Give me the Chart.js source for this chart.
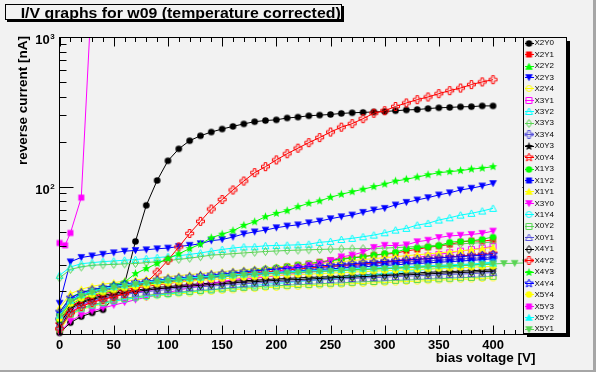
<!DOCTYPE html>
<html>
<head>
<meta charset="utf-8">
<script src="https://cdn.jsdelivr.net/npm/chart.js@4/dist/chart.umd.min.js"></script>
<style>
  html, body { margin: 0; padding: 0; background: #f2f2f2; }
  canvas { display: block; }
</style>
</head>
<body>
<canvas id="iv" width="596" height="372"></canvas>
<script>
// bias voltage points [V]
const VOLTS = [0, 10, 20, 30, 40, 50, 60, 70, 80, 90, 100, 110, 120, 130, 140, 150, 160, 170, 180, 190,
               200, 210, 220, 230, 240, 250, 260, 270, 280, 290, 300, 310, 320, 330, 340, 350, 360, 370, 380, 390, 400];
const VOLTS_X5Y1 = [...VOLTS, 410, 420, 430];
const VOLTS_X5Y3 = [0, 5, 10, 20, 30];

// reverse current [nA]
const X2Y0 = [10.5, 12.3, 13.5, 14.3, 15, 18, 22.5, 43, 75, 110, 149, 179, 203, 219, 232, 243, 253, 263, 272, 277,
              280, 288, 292, 298, 301, 304, 309, 312, 314, 316, 318, 322, 326, 328, 333, 337, 339, 342, 343, 347, 347];
const X2Y1 = [12.5, 15.8, 17.3, 18.3, 19.1, 19.8, 20.4, 21, 21.5, 22, 22.5, 23, 23.5, 24, 24.6, 25.2, 25.8, 26.4, 27, 27.6,
              28.3, 29.2, 29.8, 30.4, 31.3, 32.1, 33, 33.5, 34, 34.8, 35.3, 35.8, 37.2, 38, 39.3, 40, 41, 42.6, 43.4, 43.2, 44];
const X2Y2 = [14.5, 18.2, 19.6, 20.5, 21.2, 21.8, 22.3, 22.7, 23.1, 23.5, 23.8, 24.1, 24.4, 24.7, 25, 25.2, 25.5, 25.7, 26, 26.2,
              26.4, 26.6, 26.8, 27, 27.2, 27.4, 27.6, 27.8, 28, 28.2, 28.4, 28.6, 28.8, 29, 29.2, 29.4, 29.6, 29.8, 30, 30.2, 30.4];
const X2Y3 = [16.6, 31.4, 33.6, 34.4, 35.3, 36.1, 37, 37.4, 37.8, 38.4, 38.8, 39.8, 40.5, 41.5, 43.5, 44.3, 46, 48.3, 49.8, 51.2,
              53.1, 54.5, 55.5, 57.3, 58.8, 61, 62.9, 64.6, 67.3, 69.8, 71.6, 75.4, 78.5, 81.4, 84.4, 88, 91, 95, 97.6, 101, 105];
const X2Y4 = [10.9, 13.8, 15.0, 15.8, 16.4, 17.0, 17.5, 17.9, 18.2, 18.6, 18.9, 19.2, 19.4, 19.7, 19.9, 20.2, 20.4, 20.7, 20.8, 21.1,
              21.2, 21.4, 21.5, 21.7, 21.9, 22.0, 22.2, 22.4, 22.5, 22.7, 22.8, 23.0, 23.2, 23.3, 23.5, 23.7, 23.8, 24.0, 24.1, 24.3, 24.5];
const X3Y1 = [11.5, 14.5, 16, 17, 17.8, 18.5, 19.1, 19.6, 20.1, 20.6, 21, 21.5, 21.9, 22.3, 22.7, 23.1, 23.5, 24, 24.4, 24.8,
              25.3, 25.8, 26.3, 26.8, 27.4, 28, 28.6, 29.2, 29.8, 30.5, 31.2, 32, 32.8, 33.6, 34.4, 35.2, 36.1, 37, 37.9, 38.8, 39.8];
const X3Y2 = [25.5, 29, 30.5, 31, 31.5, 31.8, 32.2, 32.5, 33, 33.5, 34, 34.5, 35.2, 36, 37, 38, 38.8, 39.5, 39.6, 40.2,
              40.4, 40.6, 40.8, 41.2, 42.4, 43, 44.3, 45.1, 46.2, 47.4, 49.1, 51.2, 52.6, 55.3, 56.8, 59.8, 61.9, 64.5, 66.3, 68.7, 71.6];
const X3Y3 = [24.5, 28, 29, 29.8, 30, 30.2, 30.4, 30.6, 31, 31.5, 32, 32.6, 33.2, 34, 34.8, 35.2, 35.6, 36, 36.4, 36.8,
              37.1, 37.4, 37.6, 37.8, 38, 38.2, 38.3, 38.4, 38.5, 38.6, 38.8, 39.1, 39.4, 39.8, 40.2, 40.6, 41, 41.4, 41.8, 42.2, 42.6];
const X3Y4 = [13, 16.8, 18.4, 19.4, 20.1, 20.8, 21.4, 21.9, 22.4, 22.9, 23.3, 23.7, 24.1, 24.5, 24.9, 25.3, 25.7, 26.1, 26.5, 26.9,
              27.3, 27.7, 28.0, 28.4, 28.7, 29.1, 29.4, 29.7, 30.1, 30.4, 30.7, 31.0, 31.3, 31.6, 31.9, 32.2, 32.5, 32.8, 33.1, 33.4, 33.7];
const X0Y3 = [10.8, 15.6, 17.0, 17.9, 18.7, 19.3, 19.9, 20.3, 20.7, 21.2, 21.4, 21.8, 22.1, 22.4, 22.6, 22.9, 23.2, 23.5, 23.6, 23.9,
              24.1, 24.3, 24.5, 24.7, 24.8, 25.0, 25.2, 25.4, 25.6, 25.8, 25.9, 26.1, 26.3, 26.5, 26.7, 26.9, 27.0, 27.2, 27.4, 27.6, 27.8];
const X0Y4 = [12, 15.5, 17.5, 18.6, 19.5, 20.3, 21, 21.6, 22.1, 22.6, 23.1, 23.6, 24, 24.4, 24.9, 25.3, 25.7, 26.1, 26.5, 26.9,
              27.3, 27.7, 28.1, 28.5, 28.9, 29.3, 29.7, 30.1, 30.5, 30.9, 31.3, 31.7, 32.1, 32.6, 33, 33.4, 33.9, 34.3, 34.8, 35.2, 35.7];
const X1Y3 = [12.8, 16.2, 17.8, 18.8, 19.6, 20.3, 21, 21.6, 22.2, 22.7, 23.2, 23.7, 24.2, 24.7, 25.2, 25.8, 26.3, 26.9, 27.5, 28.1,
              28.7, 29.3, 29.9, 30.5, 31.2, 31.9, 32.6, 33.3, 34, 34.8, 35.6, 36.4, 38.3, 39, 39.5, 40.3, 42.5, 43, 43.4, 44.5, 46];
const X1Y2 = [14, 17.5, 19, 19.9, 20.6, 21.2, 21.7, 22.2, 22.6, 23, 23.4, 23.8, 24.1, 24.5, 24.8, 25.2, 25.5, 25.8, 26.1, 26.4,
              26.7, 27, 27.3, 27.6, 27.9, 28.2, 28.5, 28.8, 29.1, 29.4, 29.7, 30, 30.3, 30.6, 30.9, 31.2, 31.5, 31.8, 32.1, 32.5, 32.9];
const X1Y1 = [15.5, 19.2, 20.6, 21.5, 22.2, 22.8, 23.3, 23.8, 24.2, 24.6, 25, 25.4, 25.8, 26.2, 26.6, 27, 27.4, 27.8, 28.2, 28.6,
              29, 29.4, 29.8, 30.2, 30.6, 31, 31.5, 32, 32.5, 33, 33.5, 34, 34.5, 35, 35.5, 36, 36.6, 37.2, 37.8, 38.5, 39.2];
const X3Y0 = [10.6, 12.6, 13.8, 14.7, 15.4, 16.1, 16.8, 17.5, 18.2, 18.9, 19.6, 20.3, 21, 21.7, 22.4, 23.1, 23.8, 24.5, 25.2, 26,
              26.8, 27.9, 28.8, 29.8, 30.6, 32, 33.9, 34.8, 36.5, 39.2, 40.5, 40.3, 40.8, 42.8, 43.8, 45.7, 46.8, 47.3, 47.9, 48.7, 50.4];
const X1Y4 = [11.5, 14, 15.2, 16, 16.6, 17.1, 17.6, 18, 18.4, 18.8, 19.1, 19.5, 19.8, 20.1, 20.4, 20.8, 21.1, 21.5, 21.8, 22.2,
              22.5, 22.8, 23.2, 23.5, 23.9, 24.2, 24.6, 25, 25.4, 25.8, 26.2, 26.6, 27.1, 27.5, 28, 28.5, 29, 29.5, 30.1, 30.7, 31.3];
const X0Y2 = [11.2, 14.1, 15.4, 16.2, 16.8, 17.4, 17.9, 18.3, 18.7, 19.1, 19.3, 19.7, 19.9, 20.2, 20.4, 20.7, 20.9, 21.2, 21.3, 21.6,
              21.7, 21.9, 22.1, 22.2, 22.4, 22.6, 22.7, 22.9, 23.1, 23.2, 23.4, 23.6, 23.7, 23.9, 24.1, 24.2, 24.4, 24.6, 24.7, 24.9, 25.1];
const X0Y1 = [11.9, 15.0, 16.3, 17.2, 17.9, 18.5, 19.0, 19.4, 19.8, 20.2, 20.5, 20.9, 21.1, 21.4, 21.6, 21.9, 22.2, 22.4, 22.6, 22.9,
              23.1, 23.2, 23.4, 23.6, 23.8, 23.9, 24.1, 24.3, 24.5, 24.6, 24.8, 25.0, 25.2, 25.3, 25.5, 25.7, 25.9, 26.0, 26.2, 26.4, 26.6];
const X4Y1 = [12.2, 15.3, 16.7, 17.6, 18.3, 18.9, 19.4, 19.9, 20.3, 20.7, 21.0, 21.3, 21.6, 21.9, 22.1, 22.4, 22.7, 23.0, 23.1, 23.4,
              23.6, 23.8, 23.9, 24.1, 24.3, 24.5, 24.7, 24.8, 25.0, 25.2, 25.4, 25.6, 25.7, 25.9, 26.1, 26.3, 26.5, 26.6, 26.8, 27.0, 27.2];
const X4Y2 = [11.2, 14.3, 15.8, 16.8, 17.6, 18.3, 19.2, 20.5, 22.8, 26.8, 32.2, 39.5, 48.6, 58.6, 70.8, 82, 95, 109, 124, 136,
              151, 166, 181, 197, 213, 232, 250, 264, 285, 310, 322, 344, 363, 382, 398, 419, 439, 457, 482, 502, 520];
const X4Y3 = [13, 17, 18.8, 19.8, 21, 22, 23, 26.2, 28.3, 30.6, 33, 35.5, 38.5, 41.2, 45.5, 48.1, 50.7, 55.1, 58.2, 62.9,
              66.3, 69, 73.4, 77.4, 80.2, 84.9, 88.9, 92.5, 96.1, 100, 104, 109, 112, 116, 120, 124, 126, 128, 131, 133, 136];
const X4Y4 = [14.5, 18, 19.5, 20.4, 21.1, 21.7, 22.3, 22.8, 23.2, 23.7, 24.1, 24.5, 24.9, 25.3, 25.7, 26.1, 26.5, 26.9, 27.3, 27.7,
              28.1, 28.4, 28.8, 29.1, 29.5, 29.8, 30.2, 30.5, 30.9, 31.2, 31.6, 31.9, 32.3, 32.6, 33, 33.3, 33.7, 34, 34.4, 34.7, 35.1];
const X5Y4 = [13.1, 16.5, 17.9, 18.9, 19.7, 20.4, 21.0, 21.4, 21.8, 22.3, 22.6, 23.0, 23.3, 23.6, 23.9, 24.2, 24.4, 24.7, 24.9, 25.2,
              25.4, 25.6, 25.8, 26.0, 26.2, 26.4, 26.6, 26.8, 27.0, 27.2, 27.4, 27.5, 27.7, 27.9, 28.1, 28.3, 28.5, 28.7, 28.9, 29.1, 29.3];
const X5Y3 = [42, 40.5, 49, 84.5, 2200];
const X5Y2 = [13.8, 17.3, 18.9, 19.9, 20.7, 21.4, 22.0, 22.5, 23.0, 23.5, 23.8, 24.2, 24.5, 24.8, 25.1, 25.4, 25.7, 26.0, 26.2, 26.5,
              26.7, 26.9, 27.1, 27.3, 27.5, 27.7, 27.9, 28.2, 28.4, 28.6, 28.8, 29.0, 29.2, 29.4, 29.6, 29.8, 30.0, 30.2, 30.4, 30.6, 30.8];
const X5Y1 = [13.5, 17, 18.5, 19.5, 20.3, 21, 21.6, 22.1, 22.5, 23, 23.3, 23.7, 24, 24.3, 24.6, 24.9, 25.2, 25.5, 25.7, 26,
              26.2, 26.4, 26.6, 26.8, 27, 27.2, 27.4, 27.6, 27.8, 28, 28.2, 28.4, 28.6, 28.8, 29, 29.2, 29.4, 29.6, 29.8, 30.1,
              30.4, 30.6, 30.7, 30.9];

// axis ticks
const X_TICKS = [0, 50, 100, 150, 200, 250, 300, 350, 400];
const X_TICK_LABELS = ['0', '50', '100', '150', '200', '250', '300', '350', '400'];
const Y_MAJOR = [100, 1000];
const Y_MAJOR_EXP = ['2', '3'];
const Y_MINOR = [20, 30, 40, 50, 60, 70, 80, 90, 200, 300, 400, 500, 600, 700, 800, 900];

const TITLE = 'I/V graphs for w09 (temperature corrected)';
const X_TITLE = 'bias voltage [V]';
const Y_TITLE = 'reverse current [nA]';

const BG = '#f2f2f2';
const FONT = '"Liberation Sans", Arial, Helvetica, sans-serif';

// name, values, voltages, colour, marker
const SERIES = [
    ['X2Y0', X2Y0, VOLTS, '#000000', 'circleF'],
    ['X2Y1', X2Y1, VOLTS, '#ff0000', 'squareF'],
    ['X2Y2', X2Y2, VOLTS, '#00ff00', 'triUpF'],
    ['X2Y3', X2Y3, VOLTS, '#0000ff', 'triDnF'],
    ['X2Y4', X2Y4, VOLTS, '#ffff00', 'circleO'],
    ['X3Y1', X3Y1, VOLTS, '#ff00ff', 'squareO'],
    ['X3Y2', X3Y2, VOLTS, '#00ffff', 'triUpO'],
    ['X3Y3', X3Y3, VOLTS, '#59d454', 'diamondO'],
    ['X3Y4', X3Y4, VOLTS, '#5954d9', 'crossO'],
    ['X0Y3', X0Y3, VOLTS, '#000000', 'starF'],
    ['X0Y4', X0Y4, VOLTS, '#ff0000', 'starO'],
    ['X1Y3', X1Y3, VOLTS, '#00ff00', 'circleF'],
    ['X1Y2', X1Y2, VOLTS, '#0000ff', 'squareF'],
    ['X1Y1', X1Y1, VOLTS, '#ffff00', 'triUpF'],
    ['X3Y0', X3Y0, VOLTS, '#ff00ff', 'triDnF'],
    ['X1Y4', X1Y4, VOLTS, '#00ffff', 'circleO'],
    ['X0Y2', X0Y2, VOLTS, '#59d454', 'squareO'],
    ['X0Y1', X0Y1, VOLTS, '#5954d9', 'triUpO'],
    ['X4Y1', X4Y1, VOLTS, '#000000', 'diamondO'],
    ['X4Y2', X4Y2, VOLTS, '#ff0000', 'crossO'],
    ['X4Y3', X4Y3, VOLTS, '#00ff00', 'starF'],
    ['X4Y4', X4Y4, VOLTS, '#0000ff', 'starO'],
    ['X5Y4', X5Y4, VOLTS, '#ffff00', 'circleF'],
    ['X5Y3', X5Y3, VOLTS_X5Y3, '#ff00ff', 'squareF'],
    ['X5Y2', X5Y2, VOLTS, '#00ffff', 'triUpF'],
    ['X5Y1', X5Y1, VOLTS_X5Y1, '#59d454', 'triDnF'],
];

function starPath(g, cx, cy, R, r) {
    for (let k = 0; k < 10; k++) {
        const a = -Math.PI / 2 + k * Math.PI / 5;
        const rr = k % 2 ? r : R;
        const px = cx + rr * Math.cos(a), py = cy + rr * Math.sin(a);
        if (k === 0) g.moveTo(px, py); else g.lineTo(px, py);
    }
    g.closePath();
}

// ROOT-like markers as small canvases, used as pointStyle and in the legend
function makeMarker(kind, color) {
    const c = document.createElement('canvas');
    c.width = 11; c.height = 11;
    const g = c.getContext('2d');
    const m = 5.5;
    g.fillStyle = color;
    g.strokeStyle = color;
    g.lineWidth = 1;
    g.beginPath();
    switch (kind) {
        case 'circleF': g.arc(m, m, 3.3, 0, 2 * Math.PI); g.fill(); break;
        case 'squareF': g.rect(2.5, 2.5, 6, 6); g.fill(); break;
        case 'triUpF': g.moveTo(m, 1.8); g.lineTo(9.3, 8.8); g.lineTo(1.7, 8.8); g.closePath(); g.fill(); break;
        case 'triDnF': g.moveTo(1.7, 2.2); g.lineTo(9.3, 2.2); g.lineTo(m, 9.2); g.closePath(); g.fill(); break;
        case 'circleO': g.arc(m, m, 3, 0, 2 * Math.PI); g.stroke(); break;
        case 'squareO': g.rect(2.5, 2.5, 6, 6); g.stroke(); break;
        case 'triUpO': g.moveTo(m, 2); g.lineTo(9, 8.5); g.lineTo(2, 8.5); g.closePath(); g.stroke(); break;
        case 'diamondO': g.moveTo(m, 1.5); g.lineTo(8.2, m); g.lineTo(m, 9.5); g.lineTo(2.8, m); g.closePath(); g.stroke(); break;
        case 'crossO': {
            const a = 1.3, L = 4;
            const pts = [[-a, -L], [a, -L], [a, -a], [L, -a], [L, a], [a, a], [a, L], [-a, L], [-a, a], [-L, a], [-L, -a], [-a, -a]];
            pts.forEach((p, k) => k ? g.lineTo(m + p[0], m + p[1]) : g.moveTo(m + p[0], m + p[1]));
            g.closePath(); g.stroke(); break;
        }
        case 'starF': starPath(g, m, m, 4.4, 1.9); g.fill(); break;
        case 'starO': starPath(g, m, m, 4.4, 1.9); g.stroke(); break;
    }
    return c;
}

const markers = SERIES.map(s => makeMarker(s[4], s[3]));

const datasets = SERIES.map((s, i) => ({
    label: s[0],
    data: s[2].map((v, k) => ({ x: v, y: s[1][k] })),
    borderColor: s[3],
    backgroundColor: s[3],
    borderWidth: 1,
    tension: 0,
    pointStyle: markers[i],
    pointRadius: 4,
    pointHoverRadius: 4,
    order: -i,
    clip: s[0] === 'X5Y3' ? { left: 6, top: 0, right: 6, bottom: 6 } : 6,
}));

const rootStyle = {
    id: 'rootStyle',
    beforeDraw(chart) {
        const ctx = chart.ctx;
        ctx.save();
        ctx.fillStyle = BG;
        ctx.fillRect(0, 0, chart.width, chart.height);
        // pad border
        ctx.fillStyle = '#a6a6a6';
        ctx.fillRect(chart.width - 3, 0, 3, chart.height);
        ctx.fillRect(0, chart.height - 2, chart.width, 2);
        ctx.restore();
    },
    afterDraw(chart) {
        const ctx = chart.ctx;
        const xs = chart.scales.x, ys = chart.scales.y;
        const ca = chart.chartArea;
        const L = Math.round(ca.left) - 0.5, R = Math.round(ca.right) + 0.5;
        const T = Math.round(ca.top) + 0.5, B = Math.round(ca.bottom) - 0.5;
        ctx.save();

        // frame
        ctx.strokeStyle = '#000';
        ctx.lineWidth = 1;
        ctx.strokeRect(L, T, R - L, B - T);

        // ticks, pointing inward on all four sides
        ctx.beginPath();
        for (let v = 0; v <= xs.max; v += 10) {
            const x = Math.round(xs.getPixelForValue(v)) + 0.5;
            const len = v % 50 === 0 ? 9 : 4.5;
            ctx.moveTo(x, B); ctx.lineTo(x, B - len);
            ctx.moveTo(x, T); ctx.lineTo(x, T + len);
        }
        const yTick = (v, len) => {
            const y = Math.round(ys.getPixelForValue(v)) + 0.5;
            ctx.moveTo(L, y); ctx.lineTo(L + len, y);
            ctx.moveTo(R, y); ctx.lineTo(R - len, y);
        };
        Y_MAJOR.forEach(v => yTick(v, 14));
        Y_MINOR.forEach(v => yTick(v, 7));
        ctx.stroke();

        // x tick labels
        ctx.fillStyle = '#000';
        ctx.font = 'bold 13px ' + FONT;
        ctx.textAlign = 'center';
        ctx.textBaseline = 'alphabetic';
        X_TICKS.forEach((v, i) => ctx.fillText(X_TICK_LABELS[i], xs.getPixelForValue(v), 348.5));

        // y tick labels 10^n
        Y_MAJOR.forEach((v, i) => {
            const y = ys.getPixelForValue(v);
            ctx.font = 'bold 13px ' + FONT;
            ctx.textAlign = 'right';
            ctx.fillText('10', 49.8, y + 7);
            ctx.font = 'bold 8px ' + FONT;
            ctx.textAlign = 'left';
            ctx.fillText(Y_MAJOR_EXP[i], 50.3, y + 2);
        });

        // axis titles
        ctx.font = 'bold 13.5px ' + FONT;
        ctx.textAlign = 'right';
        ctx.fillText(X_TITLE, 535.5, 362);
        ctx.save();
        ctx.translate(27, 36);
        ctx.rotate(-Math.PI / 2);
        ctx.fillText(Y_TITLE, 0, 0);
        ctx.restore();

        // title box
        ctx.fillStyle = '#000';
        ctx.fillRect(7, 20, 337, 2);
        ctx.fillRect(342, 6, 2, 16);
        ctx.fillStyle = BG;
        ctx.fillRect(5, 4, 337, 16);
        ctx.strokeRect(5.5, 4.5, 336, 15);
        ctx.fillStyle = '#000';
        ctx.font = 'bold 15px ' + FONT;
        ctx.textAlign = 'left';
        const tw = ctx.measureText(TITLE).width;
        ctx.save();
        ctx.translate(20.7, 18.3);
        ctx.scale(320 / tw, 1);
        ctx.fillText(TITLE, 0, 0);
        ctx.restore();

        // legend box
        ctx.fillStyle = '#000';
        ctx.fillRect(567, 41, 3, 296);
        ctx.fillRect(527, 334, 43, 3);
        ctx.fillStyle = BG;
        ctx.fillRect(523, 37, 44, 297);
        ctx.strokeRect(523.5, 37.5, 43, 296);
        ctx.font = '8px ' + FONT;
        ctx.textBaseline = 'middle';
        SERIES.forEach((s, i) => {
            const y = 42.7 + i * 11.44;
            ctx.strokeStyle = s[3];
            ctx.beginPath();
            ctx.moveTo(525, Math.round(y) + 0.5);
            ctx.lineTo(534, Math.round(y) + 0.5);
            ctx.stroke();
            ctx.drawImage(markers[i], 529 - 5.5, Math.round(y) - 5);
            ctx.fillStyle = '#000';
            ctx.fillText(s[0], 534.5, y + 0.5);
        });
        ctx.restore();
    }
};

Chart.defaults.font.family = FONT;

new Chart(document.getElementById('iv').getContext('2d'), {
    type: 'line',
    data: { datasets: datasets },
    options: {
        responsive: false,
        animation: false,
        devicePixelRatio: 1,
        events: [],
        layout: { padding: { left: 0, top: 37.2, right: 59.6, bottom: 0 } },
        plugins: { legend: { display: false }, tooltip: { enabled: false } },
        scales: {
            x: {
                type: 'linear',
                min: 0,
                max: 440,
                grid: { display: false, drawTicks: false },
                border: { display: false },
                ticks: { display: false },
                afterFit: (s) => { s.height = 37.2; }
            },
            y: {
                type: 'logarithmic',
                min: 10.2,
                max: 1000,
                grid: { display: false, drawTicks: false },
                border: { display: false },
                ticks: { display: false },
                afterFit: (s) => { s.width = 59.6; }
            }
        }
    },
    plugins: [rootStyle]
});
</script>
</body>
</html>
